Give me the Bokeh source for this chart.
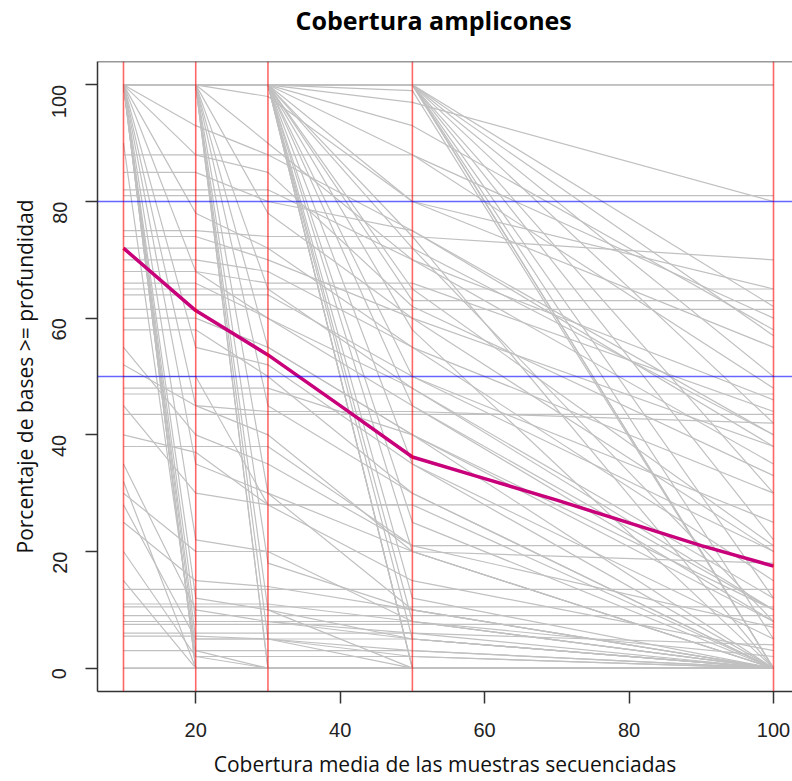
import math
from bokeh.plotting import figure
from bokeh.models import Span, Range1d, FixedTicker, Title
from bokeh.embed import file_html
from bokeh.resources import INLINE

# coverage depths (x positions of every amplicon profile)
depths = [10, 20, 30, 50, 100]

# percentage of bases >= depth for each amplicon, one list per depth
pct_10 = [100, 100, 100, 100, 100, 100, 100, 100, 100, 100, 100, 100, 100, 100, 100, 100, 100, 100, 100, 100,
          100, 100, 100, 100, 100, 100, 100, 100, 100, 100, 100, 100, 100, 100, 100, 100, 100, 100, 100, 100,
          100, 100, 100, 100, 100, 100, 100, 100, 100, 100, 100, 100, 100, 88, 85, 82, 81, 75, 74, 70,
          68, 66, 65, 64, 61.5, 60, 58, 55, 52, 48, 47, 45, 43.5, 40, 35, 32, 30, 28, 25, 20,
          15, 13.5, 11, 10.5, 9, 8, 7.5, 6, 5.5, 3, 0, 0, 100, 100, 100, 100, 100, 90, 72, 50,
          38, 100, 100, 100]
pct_20 = [100, 100, 100, 100, 100, 100, 100, 100, 100, 100, 100, 100, 100, 100, 100, 100, 100, 100, 100, 100,
          100, 100, 100, 100, 100, 100, 100, 100, 100, 100, 100, 100, 100, 100, 100, 100, 100, 100, 100, 100,
          93, 88, 78, 68, 55, 45, 35, 22, 12, 5, 0, 0, 0, 88, 85, 82, 81, 75, 74, 70,
          68, 66, 65, 64, 61.5, 60, 58, 40, 45, 48, 47, 30, 43.5, 37, 10, 0, 20, 5, 15, 2,
          0, 13.5, 11, 10.5, 9, 8, 7.5, 6, 5.5, 3, 0, 0, 8, 3, 100, 100, 100, 2, 72, 50,
          38, 100, 100, 100]
pct_30 = [100, 100, 100, 100, 100, 100, 100, 100, 100, 100, 100, 100, 100, 100, 100, 100, 100, 100, 100, 100,
          100, 100, 100, 100, 100, 100, 100, 100, 100, 98, 90, 78, 65, 55, 45, 30, 18, 5, 0, 0,
          88, 88, 72, 60, 52, 40, 30, 20, 10, 5, 0, 0, 0, 85, 80, 82, 81, 74, 70, 68,
          66, 60, 65, 64, 61.5, 55, 50, 35, 44, 48, 47, 28, 43.5, 28, 8, 0, 20, 5, 14, 2,
          0, 13.5, 11, 10.5, 9, 8, 7.5, 6, 5, 3, 0, 0, 8, 0, 10, 100, 100, 0, 72, 28,
          38, 100, 100, 100]
pct_50 = [100, 100, 100, 100, 100, 100, 100, 100, 100, 100, 100, 100, 99, 97, 93, 88, 80, 72, 65, 58,
          50, 45, 35, 25, 12, 5, 0, 0, 0, 80, 70, 60, 48, 40, 30, 20, 10, 2, 0, 0,
          75, 88, 55, 48, 35, 20, 10, 8, 5, 3, 0, 0, 0, 62, 75, 70, 81, 74, 60, 55,
          66, 45, 65, 50, 61.5, 40, 30, 21, 44, 40, 47, 15, 43.5, 28, 5, 0, 20, 5, 10, 2,
          0, 13.5, 8, 10.5, 9, 6, 7.5, 6, 0, 3, 0, 0, 8, 0, 0, 20, 8, 0, 72, 28,
          21, 100, 63, 74]
pct_100 = [100, 100, 100, 62, 57, 42, 30, 22, 12, 5, 0, 0, 0, 80, 58, 48, 65, 40, 21, 0,
           20, 8, 0, 0, 0, 0, 0, 0, 0, 55, 46, 20, 10, 0, 0, 0, 0, 0, 0, 0,
           38, 60, 15, 12, 5, 0, 0, 0, 0, 0, 0, 0, 0, 33, 40, 35, 81, 70, 38, 30,
           44, 10, 65, 25, 61.5, 8, 0, 7, 42, 10, 47, 3, 43.5, 0, 0, 0, 18, 0, 0, 0,
           0, 13.5, 2, 10.5, 9, 0, 7.5, 4, 0, 0, 0, 0, 0, 0, 0, 0, 0, 0, 8, 28,
           21, 50, 63, 0]

# mean curve
mean_x = [10, 20, 30, 40, 50, 60, 70, 80, 90, 100]
mean_y = [72.0, 61.3, 53.7, 45.0, 36.2, 32.5, 28.8, 24.9, 21.0, 17.5]

# reference lines
red_x = [10, 20, 30, 50, 100]
blue_y = [80, 50]

x_ticks = [20, 40, 60, 80, 100]
y_ticks = [0, 20, 40, 60, 80, 100]

p = figure(width=792, height=781,
           x_range=Range1d(6.4, 102.63), y_range=Range1d(-4, 104),
           output_backend="svg", toolbar_location=None,
           min_border_left=97, min_border_right=0, min_border_top=61, min_border_bottom=90)

p.title.text = "Cobertura amplicones"
p.title.align = "left"
p.title.offset = 198
p.title.text_font = "Open Sans"
p.title.text_font_style = "bold"
p.title.text_font_size = "25px"
p.title.text_color = "#000000"
p.title.standoff = 0

# spacer between the title and the plotting box
p.add_layout(Title(text=" ", text_font_size="1px", standoff=22), "above")

p.xgrid.visible = False
p.ygrid.visible = False
p.outline_line_color = None
p.background_fill_color = "white"
p.border_fill_color = "white"

xs = [depths for _ in pct_10]
ys = [[a, b, c, d, e] for a, b, c, d, e in zip(pct_10, pct_20, pct_30, pct_50, pct_100)]
p.multi_line(xs, ys, line_color="#C0C0C0", line_width=1.2)

for xv in red_x:
    p.add_layout(Span(location=xv, dimension="height", line_color="#FF0000", line_alpha=0.6, line_width=1.6))
for yv in blue_y:
    p.add_layout(Span(location=yv, dimension="width", line_color="#0000FF", line_alpha=0.6, line_width=1.6))

# top edge of the box
p.add_layout(Span(location=104, dimension="width", line_color="#333333", line_width=1.5))

p.line(mean_x, mean_y, line_color="#C8007A", line_width=3.5)

for ax in (p.xaxis[0], p.yaxis[0]):
    ax.axis_line_color = "#333333"
    ax.axis_line_width = 1.5
    ax.major_tick_line_color = "#333333"
    ax.major_tick_line_width = 1.5
    ax.major_tick_out = 12
    ax.major_tick_in = 0
    ax.minor_tick_line_color = None
    ax.major_label_text_font = "Liberation Sans"
    ax.major_label_text_font_size = "20px"
    ax.major_label_text_color = "#222222"
    ax.axis_label_text_font = "Open Sans"
    ax.axis_label_text_font_size = "21px"
    ax.axis_label_text_font_style = "normal"
    ax.axis_label_text_color = "#111111"

p.xaxis.ticker = FixedTicker(ticks=x_ticks)
p.yaxis.ticker = FixedTicker(ticks=y_ticks)
p.xaxis.axis_label = "Cobertura media de las muestras secuenciadas"
p.yaxis.axis_label = "Porcentaje de bases >= profundidad"
p.yaxis.major_label_orientation = math.pi / 2
p.xaxis.major_label_standoff = 19
p.yaxis.major_label_standoff = 26
p.xaxis.axis_label_standoff = 10
p.yaxis.axis_label_standoff = 4

open("out.html", "w").write(file_html(p, INLINE))
